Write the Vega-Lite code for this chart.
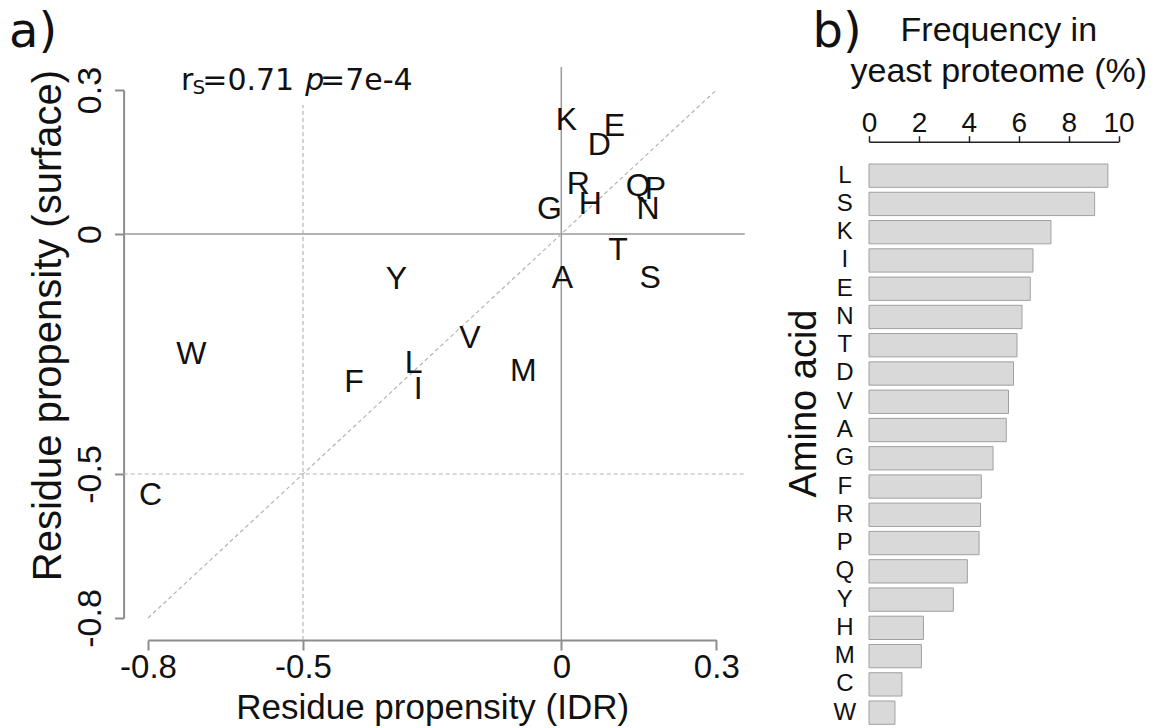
{
  "$schema": "https://vega.github.io/schema/vega-lite/v6.json",
  "padding": {"left": 9, "top": 8, "right": 0, "bottom": 0},
  "background": "white",
  "config": {"view": {"stroke": null}, "font": "Liberation Sans", "axis": {"grid": false}},
  "spacing": 39,
  "datasets": {
    "aa": [
      {"aa": "K", "idr": 0.0097, "surface": 0.238},
      {"aa": "E", "idr": 0.1026, "surface": 0.225},
      {"aa": "D", "idr": 0.0736, "surface": 0.186},
      {"aa": "R", "idr": 0.033, "surface": 0.104},
      {"aa": "H", "idr": 0.056, "surface": 0.063},
      {"aa": "G", "idr": -0.023, "surface": 0.052},
      {"aa": "Q", "idr": 0.149, "surface": 0.1},
      {"aa": "P", "idr": 0.182, "surface": 0.094},
      {"aa": "N", "idr": 0.168, "surface": 0.052},
      {"aa": "T", "idr": 0.11, "surface": -0.033},
      {"aa": "A", "idr": 0.002, "surface": -0.092},
      {"aa": "S", "idr": 0.172, "surface": -0.092},
      {"aa": "Y", "idr": -0.319, "surface": -0.094},
      {"aa": "V", "idr": -0.177, "surface": -0.217},
      {"aa": "W", "idr": -0.716, "surface": -0.25},
      {"aa": "L", "idr": -0.286, "surface": -0.269},
      {"aa": "M", "idr": -0.0736, "surface": -0.285},
      {"aa": "F", "idr": -0.401, "surface": -0.308},
      {"aa": "I", "idr": -0.277, "surface": -0.322},
      {"aa": "C", "idr": -0.795, "surface": -0.544}
    ],
    "lines": [
      {"style": "solid", "idr": -0.847, "surface": 0, "idr2": 0.355, "surface2": 0},
      {"style": "solid", "idr": 0, "surface": -0.846, "idr2": 0, "surface2": 0.348},
      {"style": "dashed", "idr": -0.847, "surface": -0.5, "idr2": 0.355, "surface2": -0.5},
      {"style": "dashed", "idr": -0.5, "surface": -0.846, "idr2": -0.5, "surface2": 0.269},
      {"style": "dashed", "idr": -0.8, "surface": -0.8, "idr2": 0.3, "surface2": 0.3}
    ],
    "stat": [
      {"piece": "r", "kind": "main", "idr": -0.736, "surface": 0.3},
      {"piece": "S", "kind": "sub", "idr": -0.714, "surface": 0.291},
      {"piece": "=0.71", "kind": "main", "idr": -0.695, "surface": 0.3},
      {"piece": "p", "kind": "italic", "idr": -0.4956, "surface": 0.3},
      {"piece": "=7e-4", "kind": "main", "idr": -0.467, "surface": 0.3}
    ],
    "panelA": [{"label": "a)", "idr": -1.069, "surface": 0.39}],
    "freq": [
      {"aa": "L", "freq": 9.57},
      {"aa": "S", "freq": 9.04},
      {"aa": "K", "freq": 7.29},
      {"aa": "I", "freq": 6.57},
      {"aa": "E", "freq": 6.46},
      {"aa": "N", "freq": 6.13},
      {"aa": "T", "freq": 5.93},
      {"aa": "D", "freq": 5.79},
      {"aa": "V", "freq": 5.59},
      {"aa": "A", "freq": 5.5},
      {"aa": "G", "freq": 4.97},
      {"aa": "F", "freq": 4.5},
      {"aa": "R", "freq": 4.47},
      {"aa": "P", "freq": 4.41},
      {"aa": "Q", "freq": 3.94},
      {"aa": "Y", "freq": 3.38},
      {"aa": "H", "freq": 2.18},
      {"aa": "M", "freq": 2.1},
      {"aa": "C", "freq": 1.32},
      {"aa": "W", "freq": 1.04}
    ],
    "panelB": [{"label": "b)", "freq": -2.26, "aa": "L"}]
  },
  "hconcat": [
    {
      "width": 568.3,
      "height": 528,
      "layer": [
        {
          "data": {"name": "lines"},
          "transform": [{"filter": "datum.style === 'solid'"}],
          "mark": {"type": "rule", "color": "#9a9a9a", "strokeWidth": 1.5},
          "encoding": {
            "x": {
              "field": "idr", "type": "quantitative",
              "scale": {"domain": [-0.8, 0.3], "nice": false, "zero": false},
              "axis": {
                "orient": "bottom", "offset": 22, "values": [-0.8, -0.5, 0, 0.3],
                "labelExpr": "datum.value == 0 ? '0' : replace(format(datum.value, '.1f'), '\u2212', '-')",
                "domainColor": "#8c8c8c", "domainWidth": 2, "tickColor": "#8c8c8c", "tickWidth": 2, "tickSize": 10,
                "labelFont": "Liberation Sans", "labelFontSize": 33, "labelColor": "#111111",
                "labelBaseline": "alphabetic", "labelPadding": 27, "labelFlush": false, "labelOverlap": false,
                "title": "Residue propensity (IDR)", "titleFont": "Liberation Sans", "titleFontSize": 35,
                "titleFontWeight": "normal", "titleColor": "#111111", "titleBaseline": "alphabetic",
                "titleAlign": "center", "titleX": 284.2, "titleY": 78.3
              }
            },
            "y": {
              "field": "surface", "type": "quantitative",
              "scale": {"domain": [-0.8, 0.3], "nice": false, "zero": false},
              "axis": {
                "orient": "left", "offset": 24.4, "values": [-0.8, -0.5, 0, 0.3],
                "labelExpr": "datum.value == 0 ? '0' : replace(format(datum.value, '.1f'), '\u2212', '-')",
                "domainColor": "#8c8c8c", "domainWidth": 2, "tickColor": "#8c8c8c", "tickWidth": 2, "tickSize": 9,
                "labelFont": "Liberation Sans", "labelFontSize": 34, "labelColor": "#111111",
                "labelAngle": -90, "labelAlign": "center", "labelBaseline": "alphabetic", "labelPadding": 14,
                "labelFlush": false, "labelOverlap": false,
                "title": "Residue propensity (surface)", "titleFont": "Liberation Sans", "titleFontSize": 40,
                "titleFontWeight": "normal", "titleColor": "#111111", "titleAngle": -90, "titleBaseline": "alphabetic",
                "titleAlign": "center", "titleX": -63.3, "titleY": 235
              }
            },
            "x2": {"field": "idr2"},
            "y2": {"field": "surface2"}
          }
        },
        {
          "data": {"name": "lines"},
          "transform": [{"filter": "datum.style === 'dashed'"}],
          "mark": {"type": "rule", "color": "#b4b4b4", "strokeWidth": 1.2, "strokeDash": [4, 3]},
          "encoding": {
            "x": {"field": "idr", "type": "quantitative"},
            "y": {"field": "surface", "type": "quantitative"},
            "x2": {"field": "idr2"},
            "y2": {"field": "surface2"}
          }
        },
        {
          "data": {"name": "aa"},
          "mark": {"type": "text", "font": "Liberation Sans", "fontSize": 32, "align": "center", "baseline": "middle", "color": "#111111"},
          "encoding": {
            "x": {"field": "idr", "type": "quantitative"},
            "y": {"field": "surface", "type": "quantitative"},
            "text": {"field": "aa"}
          }
        },
        {
          "data": {"name": "stat"},
          "transform": [{"filter": "datum.kind === 'main'"}],
          "mark": {"type": "text", "font": "DejaVu Sans", "fontSize": 30, "align": "left", "baseline": "alphabetic", "color": "#111111"},
          "encoding": {
            "x": {"field": "idr", "type": "quantitative"},
            "y": {"field": "surface", "type": "quantitative"},
            "text": {"field": "piece"}
          }
        },
        {
          "data": {"name": "stat"},
          "transform": [{"filter": "datum.kind === 'sub'"}],
          "mark": {"type": "text", "font": "DejaVu Sans", "fontSize": 20, "align": "left", "baseline": "alphabetic", "color": "#111111"},
          "encoding": {
            "x": {"field": "idr", "type": "quantitative"},
            "y": {"field": "surface", "type": "quantitative"},
            "text": {"field": "piece"}
          }
        },
        {
          "data": {"name": "stat"},
          "transform": [{"filter": "datum.kind === 'italic'"}],
          "mark": {"type": "text", "font": "DejaVu Sans", "fontSize": 30, "fontStyle": "italic", "align": "left", "baseline": "alphabetic", "color": "#111111"},
          "encoding": {
            "x": {"field": "idr", "type": "quantitative"},
            "y": {"field": "surface", "type": "quantitative"},
            "text": {"field": "piece"}
          }
        },
        {
          "data": {"name": "panelA"},
          "mark": {"type": "text", "font": "DejaVu Sans", "fontSize": 48, "align": "left", "baseline": "alphabetic", "color": "#111111"},
          "encoding": {
            "x": {"field": "idr", "type": "quantitative"},
            "y": {"field": "surface", "type": "quantitative"},
            "text": {"field": "label"}
          }
        }
      ]
    },
    {
      "width": 249.6,
      "height": 636,
      "layer": [
        {
          "data": {"name": "freq"},
          "mark": {"type": "bar", "fill": "#d9d9d9", "stroke": "#a0a0a0", "strokeWidth": 1},
          "encoding": {
            "x": {
              "field": "freq", "type": "quantitative",
              "scale": {"domain": [0, 10], "nice": false},
              "axis": {
                "orient": "top", "offset": -51.7, "values": [0, 2, 4, 6, 8, 10],
                "domainColor": "#222222", "domainWidth": 1.5, "tickColor": "#222222", "tickWidth": 1.5, "tickSize": 6,
                "labelFont": "Liberation Sans", "labelFontSize": 28, "labelColor": "#111111",
                "labelBaseline": "alphabetic", "labelPadding": 4, "labelFlush": false, "labelOverlap": false,
                "title": ["Frequency in", "yeast proteome (%)"], "titleFont": "Liberation Sans", "titleFontSize": 34,
                "titleFontWeight": "normal", "titleColor": "#111111", "titleLineHeight": 41,
                "titleBaseline": "alphabetic", "titleAlign": "center", "titleX": 129.3, "titleY": -101
              }
            },
            "y": {
              "field": "aa", "type": "nominal", "sort": null,
              "scale": {
                "domain": ["L", "S", "K", "I", "E", "N", "T", "D", "V", "A", "G", "F", "R", "P", "Q", "Y", "H", "M", "C", "W"],
                "range": [74, 634.3],
                "paddingInner": 0.175, "paddingOuter": 0
              },
              "axis": {
                "orient": "left", "domain": false, "ticks": false, "tickSize": 0,
                "labelFont": "Liberation Sans", "labelFontSize": 24, "labelColor": "#111111",
                "labelAlign": "center", "labelBaseline": "middle", "labelPadding": 24.7, "labelOverlap": false,
                "title": "Amino acid", "titleFont": "Liberation Sans", "titleFontSize": 38, "titleFontWeight": "normal",
                "titleColor": "#111111", "titleAngle": -90, "titleBaseline": "alphabetic", "titleAlign": "center",
                "titleX": -53.7, "titleY": 313
              }
            }
          }
        },
        {
          "data": {"name": "panelB"},
          "mark": {"type": "text", "font": "DejaVu Sans", "fontSize": 48, "align": "left", "baseline": "alphabetic", "dy": -129, "color": "#111111"},
          "encoding": {
            "x": {"field": "freq", "type": "quantitative"},
            "y": {"field": "aa", "type": "nominal"},
            "text": {"field": "label"}
          }
        }
      ]
    }
  ]
}
